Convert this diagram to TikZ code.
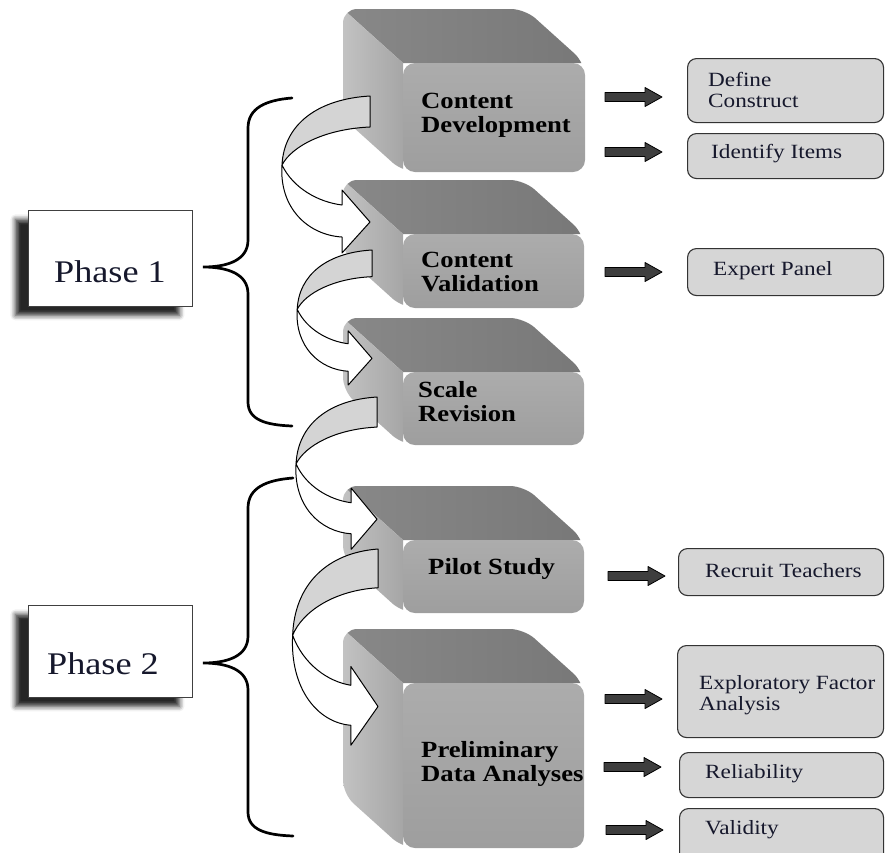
\documentclass[tikz,border=0pt]{standalone}
\usepackage{fontspec}
\setmainfont{Liberation Serif}[FakeStretch=1.15]
\usetikzlibrary{shadows.blur}

\definecolor{topface}{RGB}{136,136,136}
\definecolor{topdark}{RGB}{120,120,120}
\definecolor{leftlight}{RGB}{194,194,194}
\definecolor{leftdark}{RGB}{166,166,166}
\definecolor{frontface}{RGB}{158,158,158}
\definecolor{frontlight}{RGB}{172,172,172}
\definecolor{ribbongray}{RGB}{212,212,212}
\definecolor{sidefill}{RGB}{214,214,214}
\definecolor{arrowdark}{RGB}{62,62,62}
\definecolor{inkblue}{RGB}{22,24,44}

% three-dimensional rounded block: front face (x1,y1)-(x2,y2), depth towards upper left
\newcommand{\cubeblock}[4]{%
  \begin{scope}
    \clip[rounded corners=14pt] (#1-60,#2-54) -- (#3-60,#2-54) -- (#3,#2) -- (#3,#4)
      -- (#1,#4) -- (#1-60,#4-54) -- cycle;
    \shade[left color=topface, right color=topdark]
      (#1-60,#2-54) -- (#3-60,#2-54) -- (#3,#2) -- (#1,#2) -- cycle;
    \shade[left color=leftlight, right color=leftdark]
      (#1-60,#2-54) -- (#1,#2) -- (#1,#4) -- (#1-60,#4-54) -- cycle;
  \end{scope}
  \shade[rounded corners=12pt, top color=frontlight, bottom color=frontface]
    (#1,#2) rectangle (#3,#4);
}

% U-turn ribbon arrow: origin at the upper right corner of its grey band
\newcommand{\turnarrow}[4]{%
  \begin{scope}[shift={(#1,#2)}, xscale=#3, yscale=#4]
    \filldraw[ribbon, fill=white] (-88,69) .. controls (-91,112) and (-62,139) .. (-28,141)
      -- (-28,157) -- (0,126) -- (-28,94) -- (-28,109)
      .. controls (-52,106) and (-77,92) .. (-88,69) -- cycle;
    \filldraw[ribbon, fill=ribbongray] (0,0) .. controls (-52,3) and (-86,28) .. (-88,69)
      .. controls (-78,50) and (-45,33) .. (0,31) -- cycle;
  \end{scope}
}

% short dark block arrow starting at x=#1 on the line y=#2
\newcommand{\sidearrow}[2]{%
  \filldraw[darkarrow] (#1,#2-4.5) -- (#1+40,#2-4.5) -- (#1+40,#2-9.5) -- (#1+57,#2)
    -- (#1+40,#2+9.5) -- (#1+40,#2+4.5) -- (#1,#2+4.5) -- cycle;
}

\begin{document}
\begin{tikzpicture}[x=1pt,y=-1pt,
  ribbon/.style={draw=black, line width=1pt, line join=round},
  darkarrow/.style={fill=arrowdark, draw=black, line width=0.8pt, line join=round},
  brace/.style={draw=black, line width=2.7pt, line cap=round},
  blocktext/.style={anchor=west, align=left, inner sep=0pt, text=black,
    font=\fontsize{23.2}{24}\selectfont\bfseries},
  sidebox/.style={draw=black!80, fill=sidefill, line width=1.1pt, rounded corners=9pt,
    anchor=north west, inner sep=0pt},
  sidetext/.style={anchor=west, align=left, inner sep=0pt, text=inkblue,
    font=\fontsize{20.2}{20.5}\selectfont},
  phasebox/.style={draw=black!75, fill=white, line width=0.8pt, anchor=north west,
    inner sep=0pt, blur shadow={shadow xshift=-13pt, shadow yshift=-9pt,
    shadow blur radius=5pt, shadow opacity=85}},
  phasetext/.style={inner sep=0pt, text=inkblue, font=\fontsize{31.5}{34}\selectfont}
]
\useasboundingbox (0,0) rectangle (885,852);
\clip (0,0) rectangle (885,852);

% process blocks
\cubeblock{403}{63}{585}{172}
\cubeblock{403}{234}{584}{308}
\cubeblock{403}{372}{584}{445}
\cubeblock{403}{540}{584}{613}
\cubeblock{403}{683}{584}{848}

\node[blocktext] (cdev) at (421,115) {Content\\Development};
\node[blocktext] (cval) at (421,272) {Content\\Validation};
\node[blocktext] (srev) at (418,402) {Scale\\Revision};
\node[blocktext] (pilot) at (428,569) {Pilot Study};
\node[blocktext] (prelim) at (421,764) {Preliminary\\Data Analyses};

% ribbon arrows between the blocks
\turnarrow{370}{96}{1}{1}
\turnarrow{372}{250}{0.85}{0.86}
\turnarrow{377}{397}{0.92}{0.97}
\turnarrow{378}{549}{0.97}{1.25}

% phase labels
\node[phasebox, minimum width=164pt, minimum height=96pt] (ph1box) at (28,210) {};
\node[phasetext] (ph1) at (110,272) {Phase 1};
\node[phasebox, minimum width=164pt, minimum height=92pt] (ph2box) at (28,605) {};
\node[phasetext] (ph2) at (103,664) {Phase 2};

% braces
\draw[brace] (292,98) .. controls (266,100) and (248,108) .. (248,128) -- (248,240)
  .. controls (248,260) and (228,267) .. (203,267)
  .. controls (228,267) and (248,274) .. (248,294) -- (248,402)
  .. controls (248,420) and (266,425) .. (292,426);
\draw[brace] (293,478) .. controls (266,480) and (248,488) .. (248,508) -- (248,636)
  .. controls (248,656) and (228,663) .. (203,663)
  .. controls (228,663) and (248,670) .. (248,690) -- (248,812)
  .. controls (248,830) and (266,835) .. (293,836);

% outcome boxes
\node[sidebox, minimum width=196pt, minimum height=64pt] (defbox) at (687,58) {};
\node[sidetext] (deftxt) at (708,90) {Define\\Construct};
\node[sidebox, minimum width=196pt, minimum height=45pt] (idbox) at (687,133) {};
\node[sidetext] (idtxt) at (711,154) {Identify Items};
\node[sidebox, minimum width=196pt, minimum height=47pt] (expbox) at (687,248) {};
\node[sidetext] (exptxt) at (713,271) {Expert Panel};
\node[sidebox, minimum width=205pt, minimum height=47pt] (recbox) at (678,548) {};
\node[sidetext] (rectxt) at (705,571) {Recruit Teachers};
\node[sidebox, minimum width=206pt, minimum height=92pt] (efabox) at (677,645) {};
\node[sidetext] (efatxt) at (699,695) {Exploratory Factor\\Analysis};
\node[sidebox, minimum width=204pt, minimum height=45pt] (relbox) at (679,752) {};
\node[sidetext] (reltxt) at (705,774) {Reliability};
\node[sidebox, minimum width=204pt, minimum height=58pt] (valbox) at (679,808) {};
\node[sidetext] (valtxt) at (705,830) {Validity};

% arrows towards the outcome boxes
\sidearrow{605}{97}
\sidearrow{605}{152}
\sidearrow{605}{272}
\sidearrow{608}{576}
\sidearrow{605}{699}
\sidearrow{604}{767}
\sidearrow{606}{830}
\end{tikzpicture}
\end{document}
